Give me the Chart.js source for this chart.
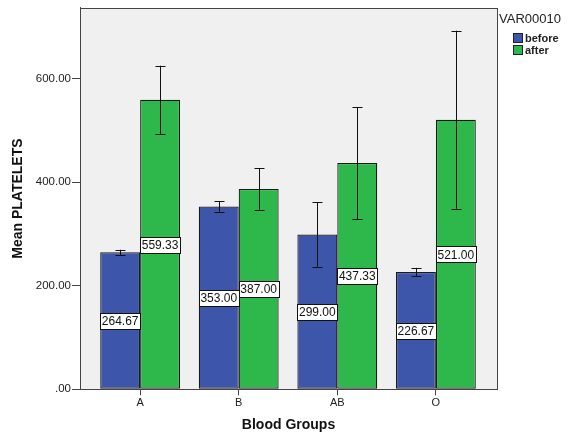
<!DOCTYPE html>
<html lang="en">
<head>
  <meta charset="UTF-8">
  <title>Mean PLATELETS by Blood Groups</title>
  <script src="https://cdn.jsdelivr.net/npm/chart.js"></script>
  <style>
    html, body { margin: 0; padding: 0; background: #ffffff; }
    #wrap { width: 571px; height: 436px; }
  </style>
</head>
<body>
  <div id="wrap"><canvas id="plateletChart" width="571" height="436"></canvas></div>

  <script>
    const categories = ['A', 'B', 'AB', 'O'];
    const beforeMeans = [264.67, 353.00, 299.00, 226.67];
    const afterMeans = [559.33, 387.00, 437.33, 521.00];
    // half-length of the error bars
    const beforeErr = [5, 10, 62, 8];
    const afterErr = [66, 40, 108, 172];
    const yTicks = [0, 200, 400, 600];

    const FONT = '"Liberation Sans", Arial, sans-serif';
    const BLUE = '#3d56a9';
    const GREEN = '#2eb84b';

    function toPoints(values) {
      return values.map((v, i) => ({ x: i, y: v }));
    }

    // gray plot background + frame
    const plotFrame = {
      id: 'plotFrame',
      beforeDatasetsDraw(chart) {
        const { ctx, chartArea: a } = chart;
        ctx.save();
        ctx.fillStyle = '#f0f0f0';
        ctx.fillRect(a.left, a.top, a.right - a.left, a.bottom - a.top);
        ctx.restore();
      },
      afterDraw(chart) {
        const { ctx, chartArea: a } = chart;
        ctx.save();
        ctx.strokeStyle = '#444';
        ctx.lineWidth = 1;
        ctx.strokeRect(Math.round(a.left) + 0.5, Math.round(a.top) + 0.5, Math.round(a.right - a.left), Math.round(a.bottom - a.top));
        ctx.restore();
      }
    };

    // error bars and value boxes
    const barExtras = {
      id: 'barExtras',
      afterDatasetsDraw(chart) {
        const { ctx } = chart;
        const yScale = chart.scales.y;
        const errs = [beforeErr, afterErr];
        ctx.save();
        chart.data.datasets.forEach((ds, di) => {
          const meta = chart.getDatasetMeta(di);
          meta.data.forEach((bar, i) => {
            const mean = ds.data[i].y;
            const e = errs[di][i];
            const x = Math.round(bar.x) + 0.5;
            const yHi = yScale.getPixelForValue(mean + e);
            const yLo = yScale.getPixelForValue(mean - e);
            ctx.strokeStyle = '#111';
            ctx.lineWidth = 1;
            ctx.beginPath();
            ctx.moveTo(x, yHi);
            ctx.lineTo(x, yLo);
            ctx.moveTo(x - 5, Math.round(yHi) + 0.5);
            ctx.lineTo(x + 5, Math.round(yHi) + 0.5);
            ctx.moveTo(x - 5, Math.round(yLo) + 0.5);
            ctx.lineTo(x + 5, Math.round(yLo) + 0.5);
            ctx.stroke();
          });
        });
        chart.data.datasets.forEach((ds, di) => {
          const meta = chart.getDatasetMeta(di);
          meta.data.forEach((bar, i) => {
            const mean = ds.data[i].y;
            const w = bar.width;
            const cy = yScale.getPixelForValue(mean / 2);
            const left = Math.round(bar.x - w / 2) + 0.5;
            const top = Math.round(cy - 8) + 0.5;
            ctx.fillStyle = '#ffffff';
            ctx.fillRect(left, top, Math.round(w), 16);
            ctx.strokeStyle = '#111';
            ctx.strokeRect(left, top, Math.round(w), 16);
            ctx.fillStyle = '#111';
            ctx.font = '12px ' + FONT;
            ctx.textAlign = 'center';
            ctx.textBaseline = 'middle';
            ctx.fillText(mean.toFixed(2), bar.x, cy + 1);
          });
        });
        ctx.restore();
      }
    };

    // legend at the top right
    const sideLegend = {
      id: 'sideLegend',
      afterDraw(chart) {
        const { ctx } = chart;
        ctx.save();
        ctx.fillStyle = '#222';
        ctx.font = '13px ' + FONT;
        ctx.textAlign = 'left';
        ctx.textBaseline = 'middle';
        ctx.fillText('VAR00010', 499, 19);
        chart.data.datasets.forEach((ds, i) => {
          const y = 33 + i * 12;
          ctx.fillStyle = ds.backgroundColor;
          ctx.fillRect(513.5, y + 0.5, 9, 9);
          ctx.strokeStyle = '#222';
          ctx.strokeRect(513.5, y + 0.5, 9, 9);
          ctx.fillStyle = '#222';
          ctx.font = 'bold 11px ' + FONT;
          ctx.fillText(ds.label, 525, y + 5.5);
        });
        ctx.restore();
      }
    };

    const ctx = document.getElementById('plateletChart').getContext('2d');
    new Chart(ctx, {
      type: 'bar',
      data: {
        datasets: [
          {
            label: 'before',
            data: toPoints(beforeMeans),
            backgroundColor: BLUE,
            borderColor: '#1a1a1a',
            borderWidth: 1.2,
            borderSkipped: false
          },
          {
            label: 'after',
            data: toPoints(afterMeans),
            backgroundColor: GREEN,
            borderColor: '#1a1a1a',
            borderWidth: 1.2,
            borderSkipped: false
          }
        ]
      },
      options: {
        responsive: false,
        animation: false,
        events: [],
        categoryPercentage: 0.81,
        barPercentage: 1,
        layout: { padding: { left: 0, right: 74, top: 6, bottom: 0 } },
        plugins: {
          legend: { display: false },
          tooltip: { enabled: false }
        },
        scales: {
          x: {
            type: 'linear',
            min: -0.61,
            max: 3.62,
            offset: false,
            afterFit(scale) { scale.height = 46.7; },
            afterBuildTicks(scale) {
              scale.ticks = categories.map((c, i) => ({ value: i }));
            },
            ticks: {
              callback: (v) => categories[v],
              font: { family: FONT, size: 11 },
              color: '#222',
              padding: 1,
              maxRotation: 0
            },
            grid: { offset: false, drawOnChartArea: false, drawTicks: true, tickLength: 6, color: '#444' },
            border: { display: true, color: '#444' },
            title: {
              display: true,
              text: 'Blood Groups',
              font: { family: FONT, size: 14, weight: 'bold' },
              color: '#111',
              padding: { top: 0, bottom: 2.6 }
            }
          },
          y: {
            min: 0,
            max: 737,
            afterFit(scale) { scale.width = 80; },
            afterBuildTicks(scale) {
              scale.ticks = yTicks.map(v => ({ value: v }));
            },
            ticks: {
              callback: (v) => v === 0 ? '.00' : v.toFixed(2),
              font: { family: FONT, size: 11.5 },
              color: '#222',
              padding: 1
            },
            grid: { drawOnChartArea: false, drawTicks: true, tickLength: 8, color: '#444' },
            border: { display: true, color: '#444' },
            title: {
              display: true,
              text: 'Mean PLATELETS',
              font: { family: FONT, size: 14, weight: 'bold' },
              color: '#111',
              padding: { top: 9.6, bottom: 0 }
            }
          }
        }
      },
      plugins: [plotFrame, barExtras, sideLegend]
    });
  </script>
</body>
</html>
